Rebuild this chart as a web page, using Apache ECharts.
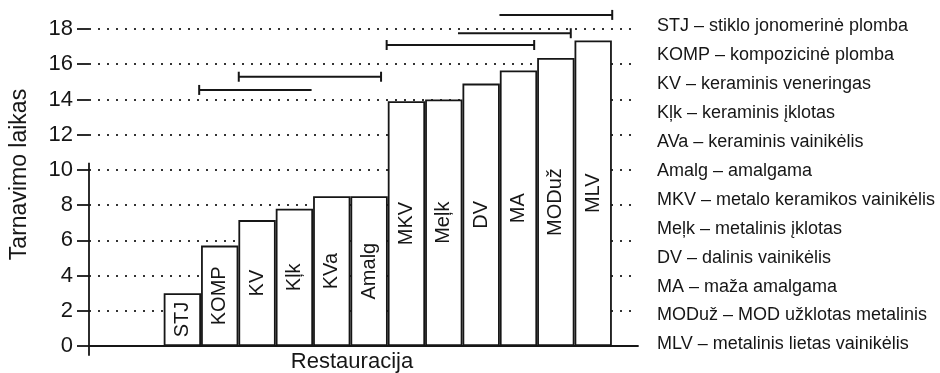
<!DOCTYPE html>
<html>
<head>
<meta charset="utf-8">
<script src="https://cdn.jsdelivr.net/npm/echarts@6/dist/echarts.min.js"></script>
<style>
  html, body { margin: 0; padding: 0; background: #fff; }
  #chart { width: 940px; height: 373px; }
</style>
</head>
<body>
<div id="chart"></div>
<script>
// restoration types, in the order the bars stand
const categories = ['STJ', 'KOMP', 'KV', 'Kļk', 'KVa', 'Amalg', 'MKV', 'Meļk', 'DV', 'MA', 'MODuž', 'MLV'];
// mean service time
const serviceTime = [3.0, 5.7, 7.15, 7.8, 8.5, 8.5, 13.9, 14.0, 14.9, 15.65, 16.35, 17.35];
// two empty slots before the first bar
const firstSlot = 2;

// comparison brackets: level, from, to, caps
const bracketLevel = [14.54, 15.29, 17.09, 17.76, 18.8];
const bracketFrom = [2.95, 4.01, 7.97, 9.88, 10.99];
const bracketTo = [5.96, 7.82, 11.92, 12.9, 14.01];
const bracketCapLeft = [1, 1, 1, 0, 0];
const bracketCapRight = [0, 1, 1, 1, 1];

const yTicks = [0, 18, 2];
// the drawn part of the y axis line
const yAxisStub = [-0.55, 10.4];

const legendLines = [
  'STJ – stiklo jonomerinė plomba',
  'KOMP – kompozicinė plomba',
  'KV – keraminis veneringas',
  'Kļk – keraminis įklotas',
  'AVa – keraminis vainikėlis',
  'Amalg – amalgama',
  'MKV – metalo keramikos vainikėlis',
  'Meļk – metalinis įklotas',
  'DV – dalinis vainikėlis',
  'MA – maža amalgama',
  'MODuž – MOD užklotas metalinis',
  'MLV – metalinis lietas vainikėlis'
];

const font = '"Liberation Sans", Arial, sans-serif';
const ink = '#161616';

const barData = serviceTime.map((v, i) => [firstSlot + i + 0.5, v]);
const bracketData = bracketLevel.map((y, i) => [y, bracketFrom[i], bracketTo[i], bracketCapLeft[i], bracketCapRight[i]]);

const chart = echarts.init(document.getElementById('chart'));

chart.setOption({
  animation: false,
  title: {
    text: legendLines.join('\n'),
    left: 652,
    top: 7,
    textStyle: { fontFamily: font, fontSize: 18, fontWeight: 'normal', color: ink, lineHeight: 28.9 }
  },
  grid: { left: 89, right: 302, top: 29, bottom: 27, containLabel: false, outerBoundsMode: 'none' },
  xAxis: {
    type: 'value',
    min: 0,
    max: 14.7,
    name: 'Restauracija',
    nameLocation: 'middle',
    nameGap: 5,
    nameTextStyle: { fontFamily: font, fontSize: 22, color: ink, padding: [0, 23, 0, 0] },
    axisLine: { show: true, onZero: false, lineStyle: { color: ink, width: 1.8 } },
    axisTick: { show: false },
    axisLabel: { show: false },
    splitLine: { show: false }
  },
  yAxis: {
    type: 'value',
    min: yTicks[0],
    max: yTicks[1],
    interval: yTicks[2],
    name: 'Tarnavimo laikas',
    nameLocation: 'middle',
    nameGap: 58,
    nameTextStyle: { fontFamily: font, fontSize: 23, color: ink, padding: [0, 0, 0, 26] },
    axisLine: { show: false },
    axisTick: { show: true, length: 12, lineStyle: { color: ink, width: 1.8 } },
    axisLabel: { fontFamily: font, fontSize: 22, color: ink, margin: 16 },
    splitLine: { show: true, lineStyle: { color: '#333', width: 2, type: [2, 7] } }
  },
  series: [
    {
      type: 'bar',
      data: barData,
      barWidth: 37.35,
      z: 2,
      itemStyle: { color: '#fff', borderColor: ink, borderWidth: 1.8 },
      label: {
        show: true,
        position: 'inside',
        rotate: 90,
        fontFamily: font,
        fontSize: 20,
        color: ink,
        formatter: p => categories[p.dataIndex]
      }
    },
    {
      type: 'custom',
      clip: false,
      z: 3,
      data: bracketData,
      encode: { x: [1, 2], y: 0 },
      renderItem: (params, api) => {
        const y = api.value(0);
        const a = api.coord([api.value(1), y]);
        const b = api.coord([api.value(2), y]);
        const style = { stroke: ink, lineWidth: 2 };
        const kids = [{ type: 'line', shape: { x1: a[0], y1: a[1], x2: b[0], y2: b[1] }, style }];
        if (api.value(3)) kids.push({ type: 'line', shape: { x1: a[0], y1: a[1] - 5, x2: a[0], y2: a[1] + 5 }, style });
        if (api.value(4)) kids.push({ type: 'line', shape: { x1: b[0], y1: b[1] - 5, x2: b[0], y2: b[1] + 5 }, style });
        return { type: 'group', children: kids };
      }
    },
    {
      // partial y axis line, as in the original
      type: 'custom',
      clip: false,
      z: 3,
      data: [[0, yAxisStub[0], yAxisStub[1]]],
      encode: { x: 0, y: [1, 2] },
      renderItem: (params, api) => {
        const a = api.coord([api.value(0), api.value(1)]);
        const b = api.coord([api.value(0), api.value(2)]);
        return { type: 'line', shape: { x1: a[0], y1: a[1], x2: b[0], y2: b[1] }, style: { stroke: ink, lineWidth: 1.8 } };
      }
    }
  ]
});
</script>
</body>
</html>
